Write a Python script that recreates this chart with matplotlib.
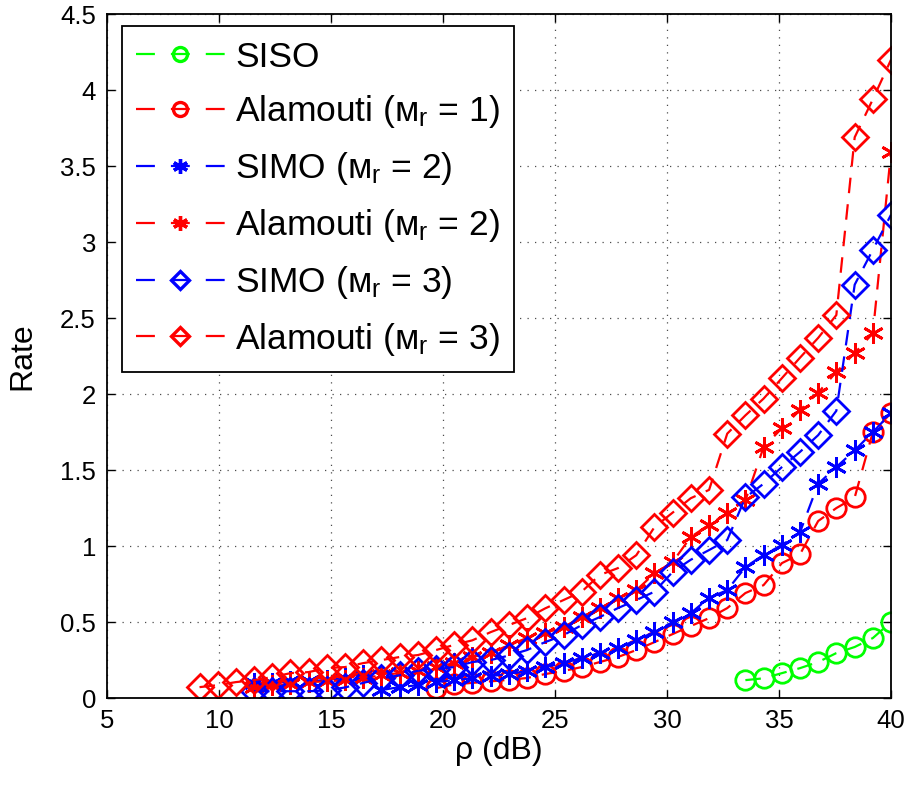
import matplotlib
matplotlib.use('Agg')
import matplotlib.pyplot as plt
from matplotlib.lines import Line2D

plt.rcParams['font.family'] = ['Liberation Sans', 'DejaVu Sans']
plt.rcParams['mathtext.fontset'] = 'custom'
plt.rcParams['mathtext.rm'] = 'Liberation Sans'
plt.rcParams['mathtext.it'] = 'Liberation Sans:italic'
plt.rcParams['mathtext.fallback'] = 'stixsans'

# SNR grid (dB), shared by all curves; each curve uses the upper part of it
rho_db = [9.13, 9.94, 10.75, 11.56, 12.38, 13.19, 14.00, 14.81, 15.63, 16.44,
          17.25, 18.06, 18.88, 19.69, 20.50, 21.31, 22.13, 22.94, 23.75, 24.56,
          25.38, 26.19, 27.00, 27.81, 28.63, 29.44, 30.25, 31.06, 31.88, 32.69,
          33.50, 34.31, 35.13, 35.94, 36.75, 37.56, 38.38, 39.19, 40.00]

siso = [0.118, 0.13, 0.164, 0.197, 0.237, 0.296, 0.336, 0.395, 0.50]

alamouti_1 = [0.065, 0.09, 0.10, 0.11, 0.12, 0.132, 0.158, 0.178, 0.204, 0.237,
              0.27, 0.316, 0.368, 0.421, 0.474, 0.526, 0.592, 0.691, 0.743, 0.888,
              0.947, 1.165, 1.25, 1.32, 1.75, 1.875]

simo_2 = [0.10, 0.10, 0.11, 0.11, 0.12, 0.13, 0.15, 0.053, 0.072, 0.085,
          0.105, 0.118, 0.13, 0.145, 0.158, 0.178, 0.204, 0.23, 0.263, 0.296,
          0.329, 0.382, 0.434, 0.50, 0.559, 0.66, 0.71, 0.862, 0.941, 1.007,
          1.092, 1.41, 1.52, 1.63, 1.75, 1.875]

alamouti_2 = [0.072, 0.085, 0.092, 0.105, 0.11, 0.118, 0.13, 0.15, 0.165, 0.178,
              0.204, 0.23, 0.27, 0.296, 0.349, 0.395, 0.428, 0.467, 0.533, 0.592,
              0.658, 0.71, 0.82, 0.895, 1.06, 1.14, 1.217, 1.30, 1.65, 1.776,
              1.895, 2.01, 2.145, 2.27, 2.40, 3.59]

simo_3 = [0.045, 0.045, 0.045, 0.045, 0.05, 0.07, 0.10, 0.13, 0.15, 0.18,
          0.19, 0.204, 0.237, 0.25, 0.28, 0.316, 0.368, 0.414, 0.48, 0.533,
          0.592, 0.645, 0.70, 0.83, 0.91, 0.974, 1.04, 1.32, 1.41, 1.52,
          1.62, 1.73, 1.89, 2.72, 2.95, 3.18]

alamouti_3 = [0.072, 0.085, 0.105, 0.118, 0.138, 0.164, 0.171, 0.197, 0.204, 0.23,
              0.25, 0.27, 0.283, 0.316, 0.35, 0.38, 0.434, 0.48, 0.526, 0.59,
              0.645, 0.70, 0.81, 0.855, 0.94, 1.125, 1.22, 1.315, 1.37, 1.74,
              1.86, 1.97, 2.105, 2.24, 2.37, 2.52, 3.69, 3.94, 4.2]

labels = ['SISO',
          r'Alamouti (ᴍ$_\mathrm{r}$ = 1)',
          r'SIMO (ᴍ$_\mathrm{r}$ = 2)',
          r'Alamouti (ᴍ$_\mathrm{r}$ = 2)',
          r'SIMO (ᴍ$_\mathrm{r}$ = 3)',
          r'Alamouti (ᴍ$_\mathrm{r}$ = 3)']

asterisk = (6, 2, 0)
series = [
    (siso, '#00ff00', 'o', 14),
    (alamouti_1, '#ff0000', 'o', 14),
    (simo_2, '#0000ff', asterisk, 15),
    (alamouti_2, '#ff0000', asterisk, 15),
    (simo_3, '#0000ff', 'D', 13),
    (alamouti_3, '#ff0000', 'D', 13),
]

fig = plt.figure(figsize=(9.1, 7.87), dpi=100)
ax = fig.add_axes([0.1176, 0.113, 0.8615, 0.869])

handles = []
for (vals, color, marker, ms), label in zip(series, labels):
    xs = rho_db[-len(vals):]
    ax.plot(xs, vals, color=color, lw=1.6, dashes=(7, 5),
            marker=marker, ms=ms, mfc='none', mec=color, mew=2.0)
    handles.append(Line2D([], [], color=color, lw=1.6, dashes=(8.5, 7.2),
                          marker=marker, ms=ms * 0.72, mfc='none', mec=color,
                          mew=2.4))

ax.set_xlim(5, 40)
ax.set_ylim(0, 4.5)
ax.set_xticks(range(5, 41, 5))
ax.set_yticks([i * 0.5 for i in range(10)])
ax.set_yticklabels(['0', '0.5', '1', '1.5', '2', '2.5', '3', '3.5', '4', '4.5'])
ax.grid(True, linestyle=(0, (1, 5)), color='black', lw=0.9, alpha=0.7)
ax.tick_params(direction='in', length=6, width=1, top=True, right=True,
               labelsize=18.5, pad=8)
for sp in ax.spines.values():
    sp.set_linewidth(1.3)

ax.set_xlabel('ρ (dB)', fontsize=23, labelpad=2)
ax.set_ylabel('Rate', fontsize=23, labelpad=16)

leg = ax.legend(handles, labels, loc='upper left', bbox_to_anchor=(0.019, 0.982),
                borderaxespad=0, fontsize=25.5, handlelength=2.5, handletextpad=0.3,
                labelspacing=0.56, borderpad=0.4, fancybox=False, framealpha=1,
                edgecolor='black')
leg.get_frame().set_linewidth(1.3)

fig.savefig('out.png', dpi=100)
